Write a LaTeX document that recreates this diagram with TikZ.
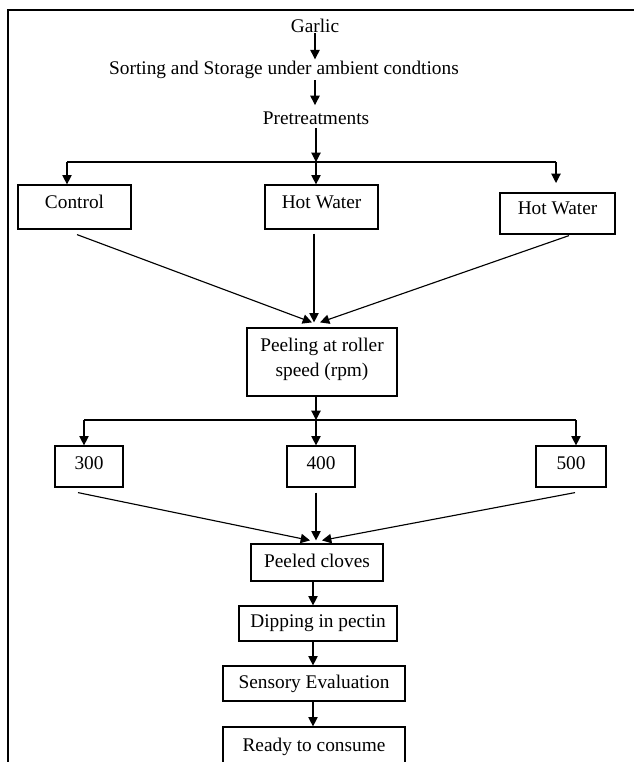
\documentclass[tikz,border=0pt]{standalone}
\usepackage{fontspec}
\setmainfont{Liberation Serif}
\usetikzlibrary{arrows.meta}
\begin{document}
\begin{tikzpicture}[x=0.75pt,y=-0.75pt,
  every node/.style={font=\fontsize{14.5}{18.75}\selectfont},
  plain/.style={inner sep=0pt, anchor=base},
  box/.style={draw, line width=0.9pt, inner sep=0pt, align=center, text height=10pt, text depth=3pt},
  lift/.style={text depth=#1},
  wh/.style 2 args={minimum width=#1*0.75pt, minimum height=#2*0.75pt},
  arr/.style={-{Triangle[length=7pt,width=7pt]}, line width=0.85pt},
  ln/.style={line width=0.85pt}]
\useasboundingbox (0,0) rectangle (634,762);
\draw[line width=1.5pt] (8,762) -- (8,10.5) -- (634,10.5);

% text steps
\node[plain] (garlic) at (315,33) {Garlic};
\node[plain] (sort) at (284,75) {Sorting and Storage under ambient condtions};
\node[plain] (pre) at (316,125) {Pretreatments};

% pretreatment boxes
\node[box, lift=8pt, wh={113}{44}] (ctrl) at (74.5,207) {Control};
\node[box, lift=8pt, wh={113}{44}] (hw1) at (321.5,207) {Hot Water};
\node[box, lift=8pt, wh={115}{41}] (hw2) at (557.5,213.5) {Hot Water};

\node[draw, line width=0.9pt, inner sep=0pt, align=center, wh={150}{68}, text depth=6.5pt] (peel) at (322,362) {Peeling at roller\\speed (rpm)};

% speed boxes
\node[box, lift=5.6pt, wh={68}{41}] (s300) at (89,466.5) {300};
\node[box, lift=5.6pt, wh={68}{41}] (s400) at (321,466.5) {400};
\node[box, lift=5.6pt, wh={70}{41}] (s500) at (571,466.5) {500};

% final steps
\node[box, wh={132}{37}] (peeled) at (317,562.5) {Peeled cloves};
\node[box, lift=4.5pt, wh={158}{35}] (dip) at (318,623.5) {Dipping in pectin};
\node[box, wh={182}{35}] (sens) at (314,683.5) {Sensory Evaluation};
\node[box, wh={182}{40}] (ready) at (314,747) {Ready to consume};

% coordinates
\coordinate (brA) at (316,162);
\coordinate (brL) at (67,162);
\coordinate (brR) at (556,162);
\coordinate (brRe) at (556,183);
\coordinate (brB) at (316,420);
\coordinate (brBL) at (84,420);
\coordinate (brBR) at (576,420);
\coordinate (vx) at (313,0);

% top arrows
\draw[arr] (garlic.south) -- ([shift={(0,-2)}]garlic.south |- sort.north);
\draw[arr] ([shift={(0,1)}]garlic.south |- sort.south) -- ([shift={(0,-7)}]garlic.south |- pre.north);
\draw[arr] ([shift={(0,3)}]pre.south) -- (brA);

% first branch
\draw[ln] (brL) -- (brR);
\draw[arr] (brL) -- (brL |- ctrl.north);
\draw[arr] (brA) -- (brA |- hw1.north);
\draw[arr] (brR) -- (brRe);

% converge to peeling
\draw[arr] ([shift={(2.5,5)}]ctrl.south) -- ([shift={(-10,-5)}]peel.north);
\draw[arr] ([shift={(-7.5,4)}]hw1.south) -- ([shift={(-8,-5)}]peel.north);
\draw[arr] ([shift={(11.5,1)}]hw2.south) -- ([shift={(-2,-5)}]peel.north);

% second branch
\draw[arr] (peel.south -| brB) -- (brB);
\draw[ln] (brBL) -- (brBR);
\draw[arr] (brBL) -- (brBL |- s300.north);
\draw[arr] (brB) -- (brB |- s400.north);
\draw[arr] (brBR) -- (brBR |- s500.north);

% converge to peeled cloves
\draw[arr] ([shift={(-11,5)}]s300.south) -- ([shift={(-7,-3)}]peeled.north);
\draw[arr] ([shift={(-5,5)}]s400.south) -- ([shift={(-1,-3)}]peeled.north);
\draw[arr] ([shift={(4,5)}]s500.south) -- ([shift={(5,-3)}]peeled.north);

% final chain
\draw[arr] (peeled.south -| vx) -- (dip.north -| vx);
\draw[arr] (dip.south -| vx) -- (sens.north -| vx);
\draw[arr] (sens.south -| vx) -- (ready.north -| vx);
\end{tikzpicture}
\end{document}
